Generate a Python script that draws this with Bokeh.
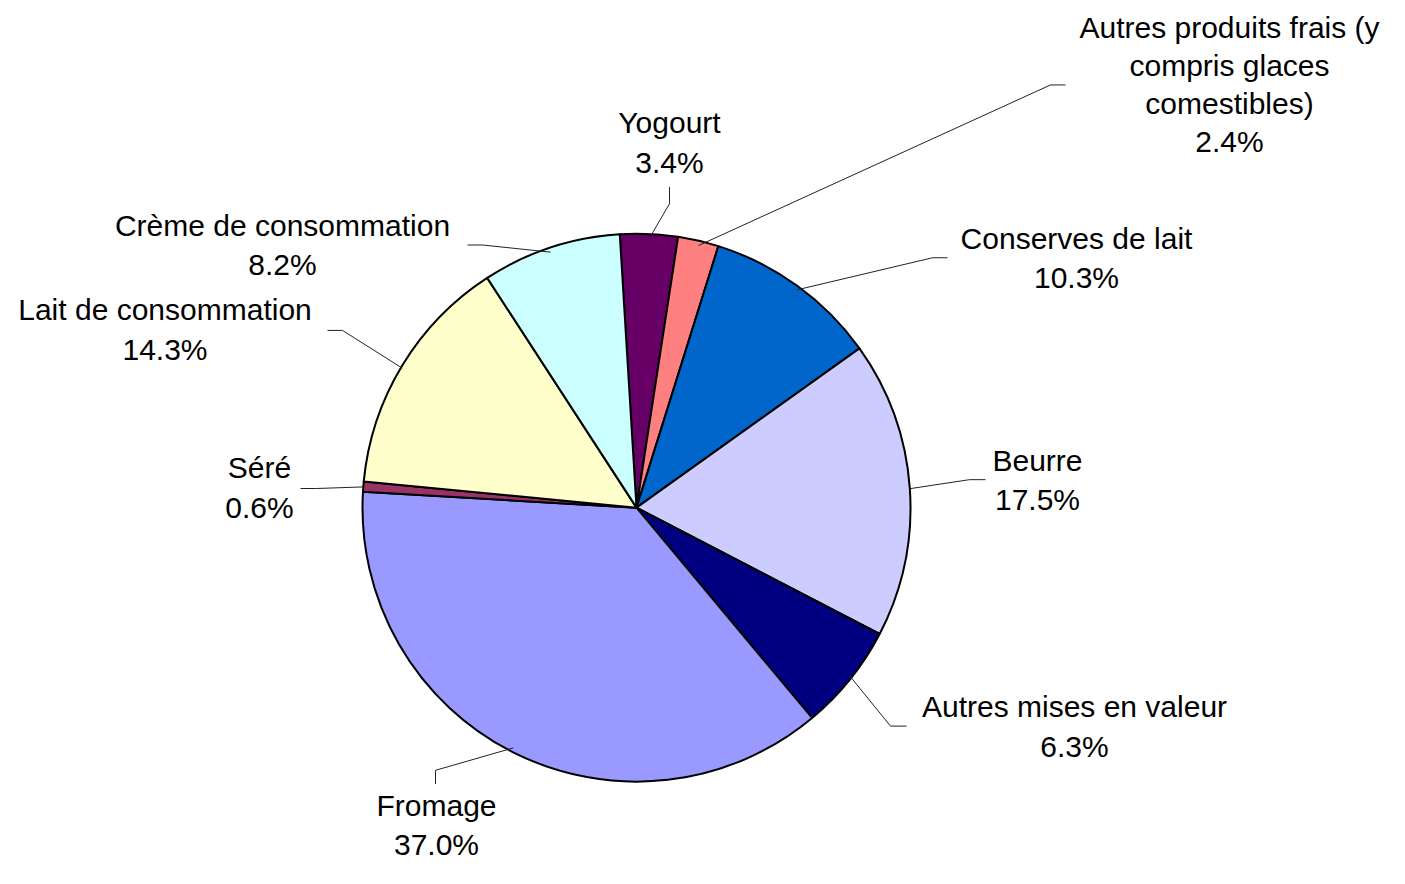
import numpy as np
from bokeh.plotting import figure
from bokeh.models import Range1d, ColumnDataSource
from bokeh.core.properties import value
from bokeh.embed import file_html
from bokeh.resources import INLINE

# ---- data (clockwise from top) ----
categories = ["Yogourt", "Autres produits frais (y\ncompris glaces\ncomestibles)",
              "Conserves de lait", "Beurre", "Autres mises en valeur", "Fromage",
              "Séré", "Lait de consommation", "Crème de consommation"]
shares = [3.4, 2.4, 10.3, 17.5, 6.3, 37.0, 0.6, 14.3, 8.2]
colors = ["#660066", "#FF8080", "#0066CC", "#CCCCFF", "#000080", "#9999FF",
          "#993366", "#FFFFCC", "#CCFFFF"]

# ---- layout (reference-image coordinates) ----
CX, CY, R = 644, 516.5, 274
START_DEG = -3.5  # rotation of first slice, clockwise from 12 o'clock
label_centers = [(677, 144.5), (1237, 85.5), (1084, 262.5), (1045, 488),
                 (1082, 739.5), (444, 840), (267, 496), (172.5, 335), (290, 249)]
label_spacing = [40, 38.7, 40, 40, 41, 40, 40, 40, 40]
leader_bends = [((677, 207), (677, 190)), ((1058, 86), (1073, 86)),
                ((940, 262), (955, 262)), ((977, 488), (993, 488)),
                ((898, 739), (914, 739)), ((443, 784), (443, 798)),
                ((324, 497), (308, 497)), ((350, 336), (335, 336)),
                ((490, 249), (475, 249))]

vals = np.array(shares, dtype=float)
frac = vals / vals.sum()
cum = np.cumsum(frac)
a1 = np.radians(START_DEG) + 2 * np.pi * (cum - frac)   # clockwise from top
a2 = np.radians(START_DEG) + 2 * np.pi * cum
mid = (a1 + a2) / 2

p = figure(width=1389, height=868, x_range=Range1d(8, 1397), y_range=Range1d(884, 0),
           output_backend="svg", toolbar_location=None, x_axis_type=None, y_axis_type=None,
           min_border=0)
p.grid.visible = False
p.outline_line_color = None
p.background_fill_color = "white"

src = ColumnDataSource(dict(x=[CX] * len(vals), y=[CY] * len(vals),
                            start=np.pi / 2 - a1, end=np.pi / 2 - a2, color=colors))
p.wedge(x="x", y="y", radius=R, start_angle="start", end_angle="end", direction="clock",
        fill_color="color", line_color="black", line_width=2, source=src)

# leader lines
xs, ys = [], []
for m, (b, e) in zip(mid, leader_bends):
    sx = CX + R * np.sin(m)
    sy = CY - R * np.cos(m)
    xs.append([sx, b[0], e[0]])
    ys.append([sy, b[1], e[1]])
p.multi_line(xs=xs, ys=ys, line_color="#222222", line_width=1)

# labels
tx, ty, tt = [], [], []
for name, v, (lx, ly), sp in zip(categories, shares, label_centers, label_spacing):
    lines = name.split("\n") + [f"{v:.1f}%"]
    n = len(lines)
    for i, line in enumerate(lines):
        tx.append(lx)
        ty.append(ly + (i - (n - 1) / 2) * sp)
        tt.append(line)
p.text(x=tx, y=ty, text=tt, text_font=value("Liberation Sans"), text_font_size="30px",
       text_align="center", text_baseline="middle", text_color="black")

open("out.html", "w").write(file_html(p, INLINE))
